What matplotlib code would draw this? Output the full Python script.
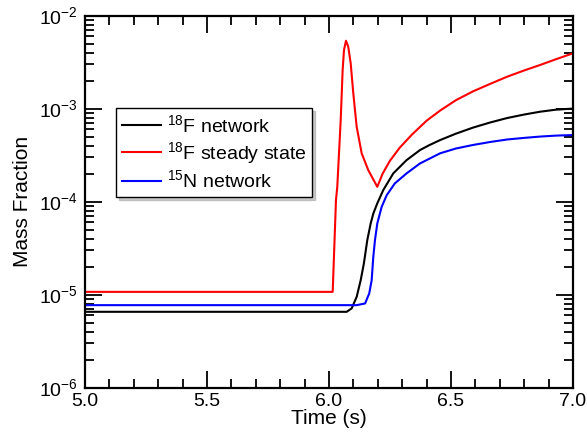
import numpy as np
import matplotlib
matplotlib.use('Agg')
import matplotlib.pyplot as plt
from matplotlib.ticker import MultipleLocator, LogLocator, FormatStrFormatter

plt.rcParams['font.family'] = ['Liberation Sans', 'DejaVu Sans']
plt.rcParams['mathtext.fontset'] = 'custom'
plt.rcParams['mathtext.rm'] = 'Liberation Sans'
plt.rcParams['mathtext.it'] = 'Liberation Sans'
plt.rcParams['mathtext.default'] = 'regular'
plt.rcParams['axes.unicode_minus'] = False

# values
t_f18_net = [5.0, 6.0725, 6.093, 6.1135, 6.130, 6.143, 6.157, 6.171, 6.182, 6.198,
             6.2225, 6.2635, 6.318, 6.373, 6.41, 6.455, 6.52, 6.59, 6.66, 6.73,
             6.8, 6.865, 6.93, 7.0]
x_f18_net = [6.53e-6, 6.53e-6, 7.11e-6, 9.46e-6, 1.43e-5, 2.16e-5, 3.85e-5, 5.83e-5,
             7.47e-5, 9.57e-5, 1.33e-4, 2.01e-4, 2.79e-4, 3.58e-4, 4.03e-4, 4.58e-4,
             5.37e-4, 6.24e-4, 7.08e-4, 7.91e-4, 8.63e-4, 9.25e-4, 9.73e-4, 1.0e-3]

t_f18_ss = [5.0, 6.0152, 6.0287, 6.034, 6.048, 6.056, 6.0615, 6.0697, 6.079,
            6.089, 6.0996, 6.1135, 6.134, 6.161, 6.198, 6.22, 6.25, 6.29, 6.34,
            6.40, 6.455, 6.52, 6.59, 6.66, 6.73, 6.8, 6.865, 6.93, 7.0]
x_f18_ss = [1.07e-5, 1.07e-5, 1.04e-4, 1.44e-4, 7.52e-4, 2.59e-3, 4.26e-3,
            5.36e-3, 4.62e-3, 3.06e-3, 1.46e-3, 6.37e-4, 3.3e-4, 2.18e-4, 1.44e-4,
            2.0e-4, 2.75e-4, 3.8e-4, 5.25e-4, 7.4e-4, 9.5e-4, 1.23e-3, 1.53e-3,
            1.84e-3, 2.2e-3, 2.57e-3, 2.94e-3, 3.39e-3, 3.93e-3]

t_n15_net = [5.0, 6.1135, 6.148, 6.165, 6.175, 6.1816, 6.1885, 6.198, 6.216, 6.2365,
             6.27, 6.318, 6.373, 6.455, 6.52, 6.59, 6.66, 6.73, 6.8, 6.865, 6.93, 7.0]
x_n15_net = [7.7e-6, 7.7e-6, 8.03e-6, 1.03e-5, 1.43e-5, 2.55e-5, 3.85e-5, 5.83e-5,
             8.79e-5, 1.17e-4, 1.57e-4, 2.01e-4, 2.57e-4, 3.3e-4, 3.72e-4, 4.06e-4,
             4.37e-4, 4.65e-4, 4.84e-4, 5.0e-4, 5.12e-4, 5.19e-4]

fig = plt.figure(figsize=(5.87, 4.36), dpi=100)
ax = fig.add_axes([0.1448, 0.111, 0.8313, 0.8533])

ax.plot(t_f18_net, x_f18_net, color='black', lw=1.5, label='$^{18}$F network')
ax.plot(t_f18_ss, x_f18_ss, color='red', lw=1.5, label='$^{18}$F steady state')
ax.plot(t_n15_net, x_n15_net, color='blue', lw=1.5, label='$^{15}$N network')

ax.set_yscale('log')
ax.set_xlim(5.0, 7.0)
ax.set_ylim(1e-6, 1e-2)
ax.xaxis.set_major_locator(MultipleLocator(0.5))
ax.xaxis.set_minor_locator(MultipleLocator(0.1))
ax.yaxis.set_major_locator(LogLocator(base=10))
ax.yaxis.set_minor_locator(LogLocator(base=10, subs=np.arange(2, 10)))
ax.xaxis.set_major_formatter(FormatStrFormatter('%.1f'))

ax.tick_params(which='both', direction='in', top=True, right=True, labelsize=14, width=1.3)
ax.tick_params(which='major', length=12)
ax.tick_params(which='minor', length=6.5)
ax.tick_params(axis='x', pad=4)
ax.tick_params(axis='y', pad=5)
for s in ax.spines.values():
    s.set_linewidth(1.6)

ax.set_xlabel('Time (s)', fontsize=15, labelpad=-1)
ax.set_ylabel('Mass Fraction', fontsize=15, labelpad=5)

leg = ax.legend(loc='upper left', bbox_to_anchor=(0.0635, 0.751), borderaxespad=0,
                fontsize=14, fancybox=False, shadow={'color': '0.6'}, framealpha=1,
                edgecolor='black', handlelength=2.0, handletextpad=0.3,
                labelspacing=0.2, borderpad=0.3)
leg.get_frame().set_linewidth(1.0)

fig.savefig('out.png', dpi=100)
